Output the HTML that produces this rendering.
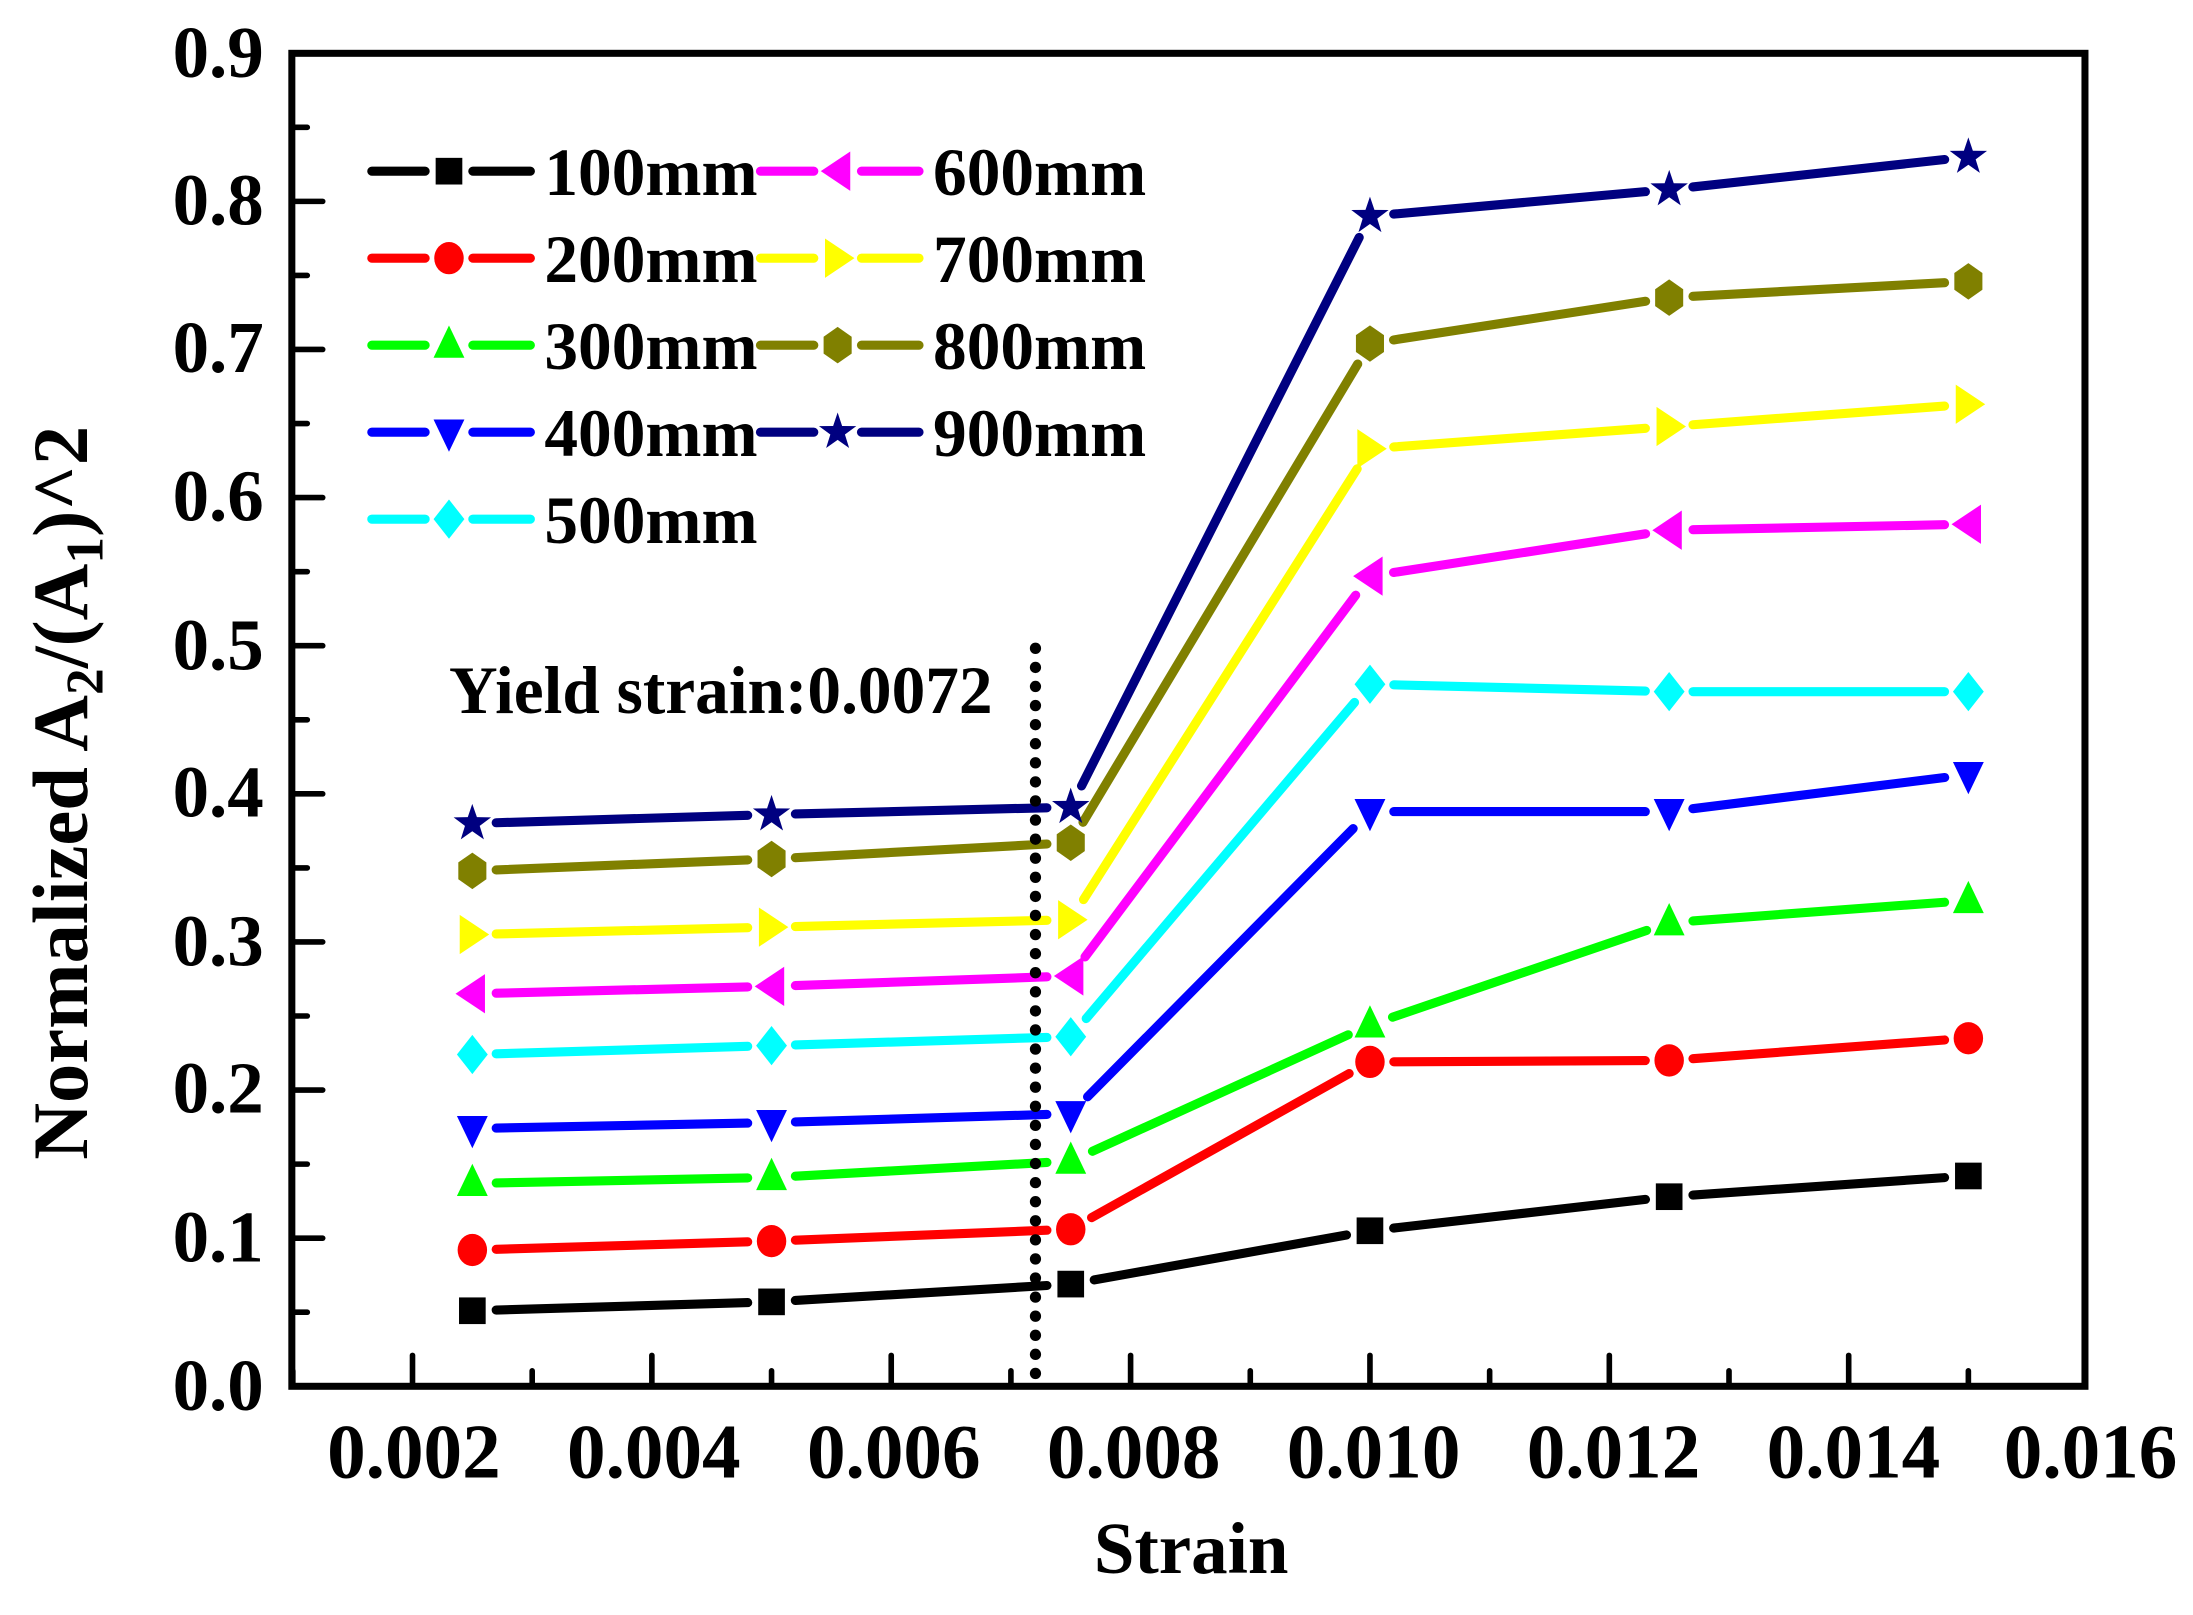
<!DOCTYPE html>
<html><head><meta charset="utf-8"><style>
html,body{margin:0;padding:0;background:#fff;}
svg{display:block;}
text{font-family:"Liberation Serif",serif;font-weight:bold;fill:#000;}
</style></head><body>
<svg id="s" width="2193" height="1615" viewBox="0 0 1563 1151" preserveAspectRatio="none" xmlns="http://www.w3.org/2000/svg">
<rect x="0" y="0" width="1563" height="1151" fill="#fff"/>
<g id="ticks" stroke="#000" stroke-width="4" stroke-linecap="round"></g>
<g id="data"></g>
<line x1="738" y1="462" x2="738" y2="990" stroke="#000" stroke-width="8" stroke-dasharray="0.1 13.5" stroke-linecap="round"/>
<rect x="208" y="38" width="1278" height="950" fill="none" stroke="#000" stroke-width="5"/>
<g font-size="52" text-anchor="end">
<text x="188" y="1005">0.0</text><text x="188" y="899">0.1</text><text x="188" y="793">0.2</text>
<text x="188" y="688">0.3</text><text x="188" y="582">0.4</text><text x="188" y="477">0.5</text>
<text x="188" y="371">0.6</text><text x="188" y="265">0.7</text><text x="188" y="160">0.8</text>
<text x="188" y="55">0.9</text>
</g>
<g font-size="55" text-anchor="middle">
<text x="295" y="1053">0.002</text><text x="466" y="1053">0.004</text><text x="637" y="1053">0.006</text>
<text x="808" y="1053">0.008</text><text x="979" y="1053">0.010</text><text x="1150" y="1053">0.012</text>
<text x="1321" y="1053">0.014</text><text x="1490" y="1053">0.016</text>
</g>
<text x="849" y="1121" font-size="52" text-anchor="middle">Strain</text>
<text transform="translate(62,565) rotate(-90)" font-size="56" text-anchor="middle">Normalized A<tspan font-size="38" dy="11">2</tspan><tspan dy="-11">/(A</tspan><tspan font-size="38" dy="11">1</tspan><tspan dy="-11">)^2</tspan></text>
<text x="320" y="508" font-size="48">Yield strain:0.0072</text>
<g font-size="48">
<text x="388" y="139">100mm</text><text x="388" y="201">200mm</text><text x="388" y="263">300mm</text>
<text x="388" y="325">400mm</text><text x="388" y="387">500mm</text>
<text x="665" y="139">600mm</text><text x="665" y="201">700mm</text><text x="665" y="263">800mm</text>
<text x="665" y="325">900mm</text>
</g>
<g id="leg"></g>
</svg>
<script>
(function(){
var NS="http://www.w3.org/2000/svg";
function el(p,t,a){var e=document.createElementNS(NS,t);for(var k in a)e.setAttribute(k,a[k]);p.appendChild(e);return e;}
var T=document.getElementById("ticks");
for(var i=0;i<16;i++){var x=294+i*85.3; if(x>1484)break; var L=(i%2==0)?22:11; el(T,"line",{x1:x,y1:988,x2:x,y2:988-L});}
el(T,"line",{x1:294-85.3,y1:988,x2:294-85.3,y2:977});
for(var j=1;j<18;j++){var y=988-j*52.78; var L=(j%2==0)?22:11; el(T,"line",{x1:208,y1:y,x2:208+L,y2:y});}
var xs=[0.0025,0.005,0.0075,0.01,0.0125,0.015].map(function(v){return 294+(v-0.002)/0.002*170.6;});
function Y(v){return 988-v*1055.6;}
var S=[
["#000","sq",[0.051,0.057,0.069,0.105,0.128,0.142]],
["#ff0000","ci",[0.092,0.098,0.106,0.219,0.220,0.235]],
["#00ff00","tu",[0.137,0.141,0.152,0.244,0.313,0.328]],
["#0000ff","td",[0.174,0.178,0.184,0.388,0.388,0.413]],
["#00ffff","di",[0.224,0.230,0.236,0.474,0.469,0.469]],
["#ff00ff","tl",[0.265,0.270,0.277,0.547,0.578,0.582]],
["#ffff00","tr",[0.305,0.310,0.315,0.633,0.648,0.663]],
["#808000","hx",[0.348,0.356,0.367,0.704,0.735,0.746]],
["#000080","st",[0.380,0.386,0.391,0.790,0.808,0.830]]];
function mk(g,t,x,y,c){
 if(t=="sq")el(g,"rect",{x:x-9.5,y:y-9.5,width:19,height:19,fill:c});
 else if(t=="ci")el(g,"ellipse",{cx:x,cy:y,rx:10.5,ry:11.5,fill:c});
 else if(t=="tu")el(g,"polygon",{points:(x)+","+(y-14)+" "+(x-11)+","+(y+9)+" "+(x+11)+","+(y+9),fill:c});
 else if(t=="td")el(g,"polygon",{points:(x)+","+(y+14)+" "+(x-11)+","+(y-9)+" "+(x+11)+","+(y-9),fill:c});
 else if(t=="di")el(g,"polygon",{points:x+","+(y-14)+" "+(x+11)+","+y+" "+x+","+(y+14)+" "+(x-11)+","+y,fill:c});
 else if(t=="tl")el(g,"polygon",{points:(x-12)+","+y+" "+(x+9)+","+(y-14)+" "+(x+9)+","+(y+14),fill:c});
 else if(t=="tr")el(g,"polygon",{points:(x+12)+","+y+" "+(x-9)+","+(y-14)+" "+(x-9)+","+(y+14),fill:c});
 else if(t=="hx")el(g,"polygon",{points:x+","+(y-13)+" "+(x+10)+","+(y-6)+" "+(x+10)+","+(y+6)+" "+x+","+(y+13)+" "+(x-10)+","+(y+6)+" "+(x-10)+","+(y-6),fill:c});
 else if(t=="st"){var p=[];for(var k=0;k<10;k++){var a=-Math.PI/2+k*Math.PI/5,rr=(k%2==0)?14:5.5;p.push((x+rr*Math.cos(a)).toFixed(1)+","+(y+rr*Math.sin(a)).toFixed(1));}el(g,"polygon",{points:p.join(" "),fill:c});}
}
var D=document.getElementById("data");
S.forEach(function(s){
 var g=el(D,"g",{});
 for(var i=0;i<5;i++){
  var ax=xs[i],ay=Y(s[2][i]),bx=xs[i+1],by=Y(s[2][i+1]);
  var dx=bx-ax,dy=by-ay,d=Math.sqrt(dx*dx+dy*dy),g0=17;
  el(g,"line",{x1:ax+dx/d*g0,y1:ay+dy/d*g0,x2:bx-dx/d*g0,y2:by-dy/d*g0,stroke:s[0],"stroke-width":6.5,"stroke-linecap":"round"});
 }
 for(var i=0;i<6;i++)mk(g,s[1],xs[i],Y(s[2][i]),s[0]);
});
var G=document.getElementById("leg");
S.forEach(function(s,i){
 var col=i<5?0:1,row=i<5?i:i-5;
 var x1=col?542:265,xm=col?597:320,y=122+row*62;
 el(G,"line",{x1:x1,y1:y,x2:xm-17,y2:y,stroke:s[0],"stroke-width":6.5,"stroke-linecap":"round"});
 el(G,"line",{x1:xm+17,y1:y,x2:x1+113,y2:y,stroke:s[0],"stroke-width":6.5,"stroke-linecap":"round"});
 mk(G,s[1],xm,y,s[0]);
});
})();
</script>
</body></html>
